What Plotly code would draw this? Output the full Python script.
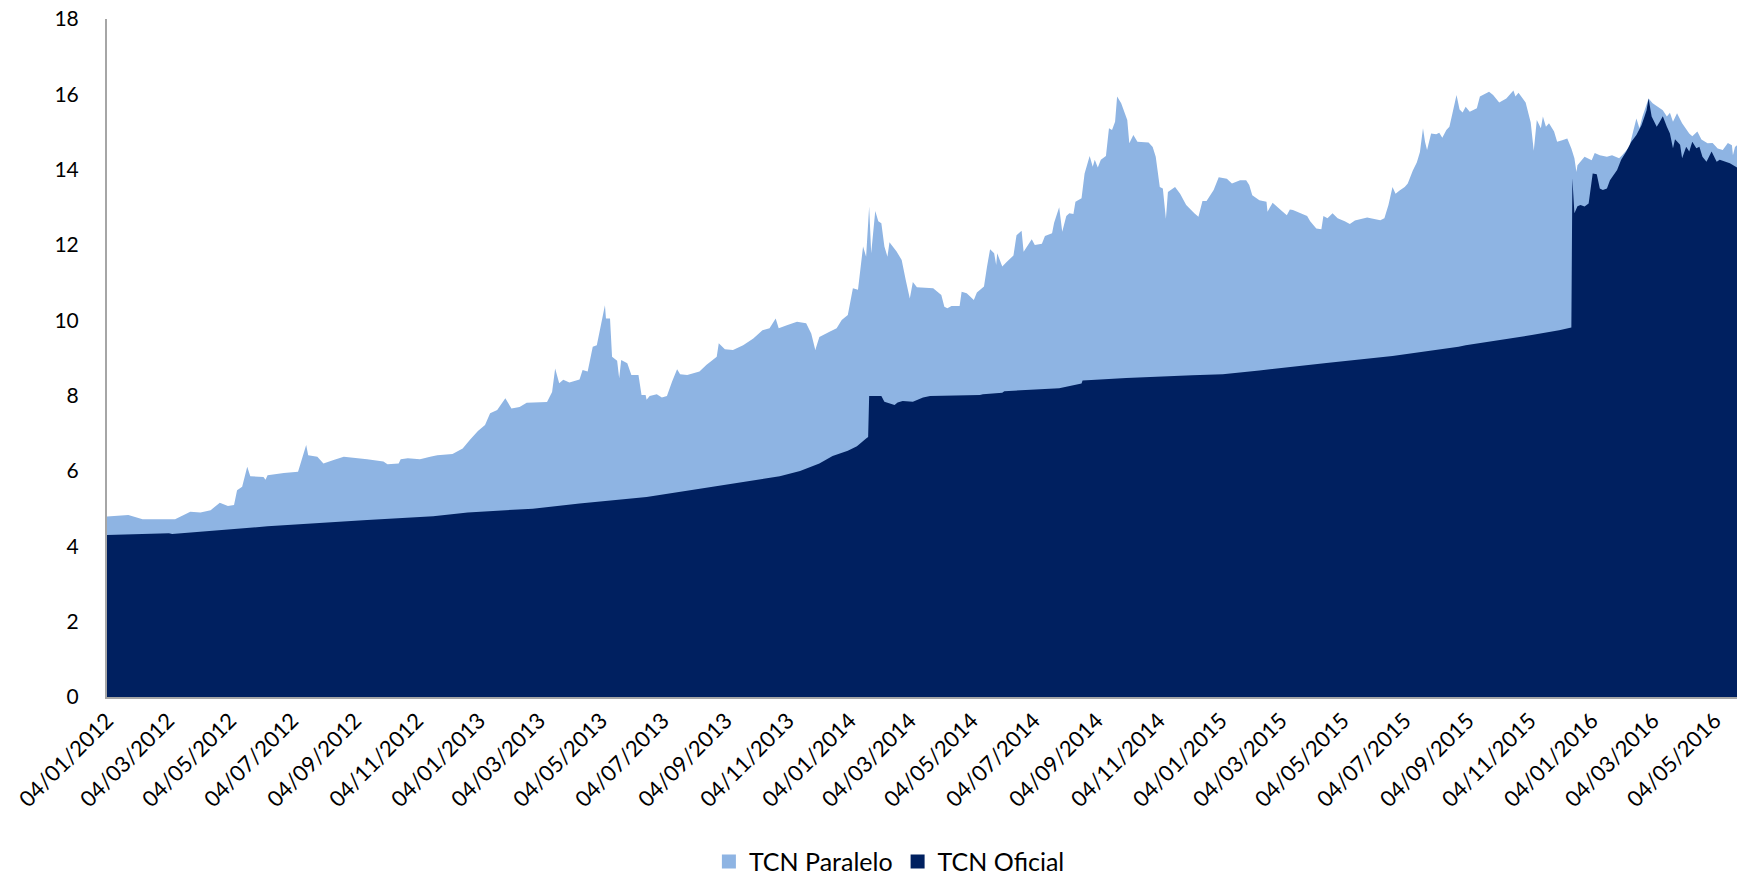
import plotly.graph_objects as go

# TCN Paralelo (parallel exchange rate)
paralelo_dates = [
    '2012-01-04', '2012-01-25', '2012-02-08', '2012-03-03', '2012-03-11', '2012-03-26',
    '2012-04-05', '2012-04-15', '2012-04-24', '2012-05-02', '2012-05-08', '2012-05-11',
    '2012-05-16', '2012-05-21', '2012-05-24', '2012-06-06', '2012-06-08', '2012-06-10',
    '2012-06-26', '2012-07-10', '2012-07-18', '2012-07-20', '2012-07-29', '2012-08-04',
    '2012-08-14', '2012-08-24', '2012-09-16', '2012-10-02', '2012-10-06', '2012-10-17',
    '2012-10-19', '2012-10-26', '2012-11-07', '2012-11-17', '2012-11-24', '2012-12-09',
    '2012-12-19', '2012-12-26', '2013-01-03', '2013-01-10', '2013-01-15', '2013-01-22',
    '2013-01-30', '2013-02-05', '2013-02-13', '2013-02-20', '2013-03-12', '2013-03-17',
    '2013-03-20', '2013-03-24', '2013-03-28', '2013-04-03', '2013-04-13', '2013-04-16',
    '2013-04-21', '2013-04-26', '2013-04-30', '2013-05-04', '2013-05-08', '2013-05-09',
    '2013-05-13', '2013-05-15', '2013-05-20', '2013-05-22', '2013-05-24', '2013-05-30',
    '2013-06-03', '2013-06-10', '2013-06-13', '2013-06-17', '2013-06-18', '2013-06-21',
    '2013-06-28', '2013-07-03', '2013-07-08', '2013-07-13', '2013-07-18', '2013-07-21',
    '2013-07-28', '2013-08-09', '2013-08-16', '2013-08-22', '2013-08-26', '2013-08-28',
    '2013-09-03', '2013-09-11', '2013-09-21', '2013-10-01', '2013-10-10', '2013-10-17',
    '2013-10-23', '2013-10-26', '2013-11-03', '2013-11-13', '2013-11-22', '2013-11-27',
    '2013-12-01', '2013-12-05', '2013-12-15', '2013-12-22', '2013-12-27', '2014-01-02',
    '2014-01-07', '2014-01-12', '2014-01-17', '2014-01-20', '2014-01-23', '2014-01-25',
    '2014-01-29', '2014-02-01', '2014-02-04', '2014-02-07', '2014-02-10', '2014-02-12',
    '2014-02-19', '2014-02-24', '2014-02-28', '2014-03-04', '2014-03-07', '2014-03-11',
    '2014-03-27', '2014-04-04', '2014-04-07', '2014-04-10', '2014-04-14', '2014-04-22',
    '2014-04-24', '2014-04-29', '2014-05-06', '2014-05-09', '2014-05-16', '2014-05-19',
    '2014-05-22', '2014-05-26', '2014-05-28', '2014-05-29', '2014-06-03', '2014-06-07',
    '2014-06-14', '2014-06-17', '2014-06-22', '2014-06-24', '2014-07-02', '2014-07-05',
    '2014-07-12', '2014-07-15', '2014-07-22', '2014-07-24', '2014-07-29', '2014-08-01',
    '2014-08-05', '2014-08-08', '2014-08-12', '2014-08-14', '2014-08-20', '2014-08-23',
    '2014-08-28', '2014-08-31', '2014-09-02', '2014-09-05', '2014-09-08', '2014-09-13',
    '2014-09-16', '2014-09-19', '2014-09-22', '2014-09-24', '2014-09-28', '2014-10-04',
    '2014-10-06', '2014-10-10', '2014-10-14', '2014-10-25', '2014-10-29', '2014-11-01',
    '2014-11-05', '2014-11-08', '2014-11-11', '2014-11-13', '2014-11-20', '2014-11-25',
    '2014-12-01', '2014-12-09', '2014-12-13', '2014-12-17', '2014-12-21', '2014-12-28',
    '2015-01-02', '2015-01-10', '2015-01-15', '2015-01-23', '2015-01-29', '2015-02-01',
    '2015-02-04', '2015-02-11', '2015-02-18', '2015-02-19', '2015-02-24', '2015-03-06',
    '2015-03-10', '2015-03-13', '2015-03-16', '2015-03-30', '2015-04-02', '2015-04-08',
    '2015-04-13', '2015-04-15', '2015-04-19', '2015-04-24', '2015-04-29', '2015-05-06',
    '2015-05-11', '2015-05-16', '2015-05-28', '2015-06-10', '2015-06-14', '2015-06-18',
    '2015-06-22', '2015-06-25', '2015-06-29', '2015-07-04', '2015-07-07', '2015-07-12',
    '2015-07-16', '2015-07-19', '2015-07-22', '2015-07-24', '2015-07-26', '2015-07-30',
    '2015-08-04', '2015-08-07', '2015-08-10', '2015-08-14', '2015-08-17', '2015-08-20',
    '2015-08-24', '2015-08-27', '2015-08-30', '2015-09-02', '2015-09-06', '2015-09-13',
    '2015-09-16', '2015-09-25', '2015-09-29', '2015-10-05', '2015-10-12', '2015-10-19',
    '2015-10-21', '2015-10-24', '2015-10-31', '2015-11-05', '2015-11-08', '2015-11-11',
    '2015-11-15', '2015-11-17', '2015-11-20', '2015-11-23', '2015-11-28', '2015-12-01',
    '2015-12-06', '2015-12-11', '2015-12-15', '2015-12-18', '2015-12-20', '2015-12-21',
    '2015-12-28', '2016-01-04', '2016-01-07', '2016-01-12', '2016-01-19', '2016-01-24',
    '2016-01-31', '2016-02-03', '2016-02-10', '2016-02-17', '2016-02-20', '2016-02-23',
    '2016-02-29', '2016-03-04', '2016-03-09', '2016-03-14', '2016-03-18', '2016-03-21',
    '2016-03-24', '2016-03-28', '2016-04-02', '2016-04-09', '2016-04-12', '2016-04-17',
    '2016-04-21', '2016-04-27', '2016-05-02', '2016-05-07', '2016-05-12', '2016-05-17',
    '2016-05-21', '2016-05-22', '2016-05-24', '2016-05-26',
]
paralelo = [
    4.79, 4.83, 4.72, 4.72, 4.72, 4.92,
    4.90, 4.96, 5.16, 5.07, 5.10, 5.49,
    5.58, 6.11, 5.86, 5.84, 5.77, 5.89,
    5.95, 5.98, 6.69, 6.42, 6.38, 6.20,
    6.29, 6.38, 6.31, 6.25, 6.18, 6.20,
    6.31, 6.34, 6.31, 6.38, 6.42, 6.45,
    6.60, 6.82, 7.06, 7.22, 7.53, 7.62,
    7.93, 7.66, 7.70, 7.81, 7.83, 8.10,
    8.72, 8.33, 8.42, 8.35, 8.43, 8.68,
    8.64, 9.30, 9.34, 9.87, 10.40, 10.05,
    10.05, 9.03, 8.93, 8.46, 8.95, 8.86,
    8.55, 8.55, 8.02, 8.02, 7.89, 7.99,
    8.04, 7.95, 7.99, 8.37, 8.70, 8.57,
    8.55, 8.64, 8.82, 8.95, 9.03, 9.39,
    9.23, 9.21, 9.34, 9.52, 9.74, 9.79,
    10.05, 9.79, 9.87, 9.96, 9.92, 9.65,
    9.21, 9.56, 9.70, 9.79, 10.01, 10.14,
    10.85, 10.81, 11.96, 11.69, 13.02, 11.78,
    12.90, 12.63, 12.58, 11.96, 11.69, 12.07,
    11.83, 11.60, 11.07, 10.58, 11.02, 10.88,
    10.85, 10.67, 10.36, 10.32, 10.38, 10.38,
    10.76, 10.72, 10.54, 10.74, 10.90, 11.43,
    11.89, 11.78, 11.47, 11.78, 11.43, 11.54,
    11.72, 12.26, 12.38, 11.82, 12.15, 12.00,
    12.03, 12.24, 12.31, 12.59, 13.00, 12.35,
    12.77, 12.84, 12.82, 13.15, 13.24, 13.90,
    14.36, 14.08, 14.26, 14.06, 14.26, 14.36,
    15.10, 15.05, 15.27, 15.94, 15.76, 15.32,
    14.70, 14.92, 14.74, 14.72, 14.60, 14.34,
    13.54, 13.50, 12.70, 13.41, 13.54, 13.36,
    13.06, 12.84, 12.75, 13.17, 13.17, 13.46,
    13.80, 13.76, 13.63, 13.72, 13.72, 13.59,
    13.32, 13.19, 13.15, 12.88, 13.12, 12.88,
    12.79, 12.94, 12.93, 12.77, 12.63, 12.44,
    12.42, 12.77, 12.71, 12.84, 12.71, 12.63,
    12.56, 12.65, 12.73, 12.66, 12.71, 13.06,
    13.54, 13.36, 13.45, 13.54, 13.63, 13.98,
    14.20, 14.47, 15.10, 14.74, 14.52, 14.96,
    14.94, 14.98, 14.85, 15.05, 15.14, 15.50,
    15.98, 15.60, 15.52, 15.67, 15.54, 15.63,
    15.94, 16.07, 15.98, 15.78, 15.89, 16.10,
    15.94, 16.04, 15.78, 15.25, 14.50, 15.32,
    15.10, 15.41, 15.14, 15.23, 15.01, 14.74,
    14.78, 14.83, 14.56, 14.30, 13.94, 14.12,
    14.34, 14.25, 14.44, 14.38, 14.34, 14.38,
    14.30, 14.38, 14.60, 15.36, 15.10, 15.41,
    15.89, 15.76, 15.67, 15.58, 15.41, 15.51,
    15.27, 15.50, 15.23, 14.96, 14.89, 15.01,
    14.80, 14.70, 14.71, 14.56, 14.52, 14.71,
    14.65, 14.38, 14.60, 14.65,
]

# TCN Oficial (official exchange rate)
oficial_dates = [
    '2012-01-04', '2012-03-05', '2012-03-08', '2012-06-10', '2012-09-16', '2012-11-20',
    '2012-12-24', '2013-02-26', '2013-04-13', '2013-06-18', '2013-08-22', '2013-10-27',
    '2013-11-16', '2013-12-05', '2013-12-18', '2014-01-02', '2014-01-11', '2014-01-20',
    '2014-01-22', '2014-01-23', '2014-02-04', '2014-02-07', '2014-02-17', '2014-02-20',
    '2014-02-25', '2014-03-07', '2014-03-17', '2014-03-24', '2014-05-12', '2014-05-15',
    '2014-06-03', '2014-06-05', '2014-07-29', '2014-08-20', '2014-08-21', '2014-10-03',
    '2014-12-07', '2015-01-06', '2015-02-11', '2015-04-18', '2015-06-22', '2015-08-26',
    '2015-09-02', '2015-11-06', '2015-12-03', '2015-12-15', '2015-12-16', '2015-12-18',
    '2015-12-21', '2015-12-24', '2015-12-28', '2016-01-01', '2016-01-05', '2016-01-09',
    '2016-01-12', '2016-01-15', '2016-01-19', '2016-01-22', '2016-01-29', '2016-02-02',
    '2016-02-07', '2016-02-12', '2016-02-17', '2016-02-22', '2016-02-25', '2016-02-27',
    '2016-02-29', '2016-03-03', '2016-03-08', '2016-03-11', '2016-03-14', '2016-03-18',
    '2016-03-21', '2016-03-24', '2016-03-26', '2016-03-31', '2016-04-02', '2016-04-06',
    '2016-04-09', '2016-04-12', '2016-04-16', '2016-04-19', '2016-04-22', '2016-04-26',
    '2016-05-01', '2016-05-06', '2016-05-09', '2016-05-19', '2016-05-26',
]
oficial = [
    4.30, 4.35, 4.33, 4.53, 4.70, 4.80,
    4.90, 5.00, 5.14, 5.31, 5.58, 5.86,
    6.00, 6.20, 6.40, 6.54, 6.66, 6.86,
    6.90, 7.99, 7.99, 7.84, 7.75, 7.82,
    7.86, 7.84, 7.95, 7.99, 8.02, 8.04,
    8.08, 8.12, 8.20, 8.32, 8.40, 8.47,
    8.54, 8.57, 8.67, 8.87, 9.05, 9.30,
    9.34, 9.61, 9.74, 9.81, 13.77, 12.84,
    13.03, 13.06, 13.02, 13.10, 13.90, 13.88,
    13.50, 13.46, 13.50, 13.72, 13.99, 14.26,
    14.48, 14.74, 14.92, 15.18, 15.41, 15.58,
    15.89, 15.41, 15.14, 15.27, 15.42, 15.14,
    14.96, 14.57, 14.81, 14.66, 14.30, 14.61,
    14.48, 14.74, 14.57, 14.61, 14.34, 14.21,
    14.48, 14.21, 14.26, 14.17, 14.06,
]

y_ticks = [0, 2, 4, 6, 8, 10, 12, 14, 16, 18]

light_blue = '#8EB4E3'
navy = '#002060'
font_name = 'Lato, Open Sans, sans-serif'

fig = go.Figure()

# areas (legend handled by the square markers below)
fig.add_trace(go.Scatter(x=paralelo_dates, y=paralelo, name='TCN Paralelo',
                         mode='none', fill='tozeroy', fillcolor=light_blue,
                         showlegend=False))
fig.add_trace(go.Scatter(x=oficial_dates, y=oficial, name='TCN Oficial',
                         mode='none', fill='tozeroy', fillcolor=navy,
                         showlegend=False))

# legend squares like the excel legend
fig.add_trace(go.Scatter(x=[None], y=[None], name='TCN Paralelo', mode='markers',
                         marker=dict(symbol='square', size=14, color=light_blue)))
fig.add_trace(go.Scatter(x=[None], y=[None], name='TCN Oficial', mode='markers',
                         marker=dict(symbol='square', size=14, color=navy)))

fig.update_layout(
    width=1741, height=878,
    margin=dict(l=107, r=4, t=19, b=181, autoexpand=False),
    plot_bgcolor='white', paper_bgcolor='white',
    font=dict(family=font_name, size=22, color='#000000'),
    legend=dict(orientation='h', x=0.480, xanchor='center', y=-0.243, yanchor='middle',
                font=dict(size=25), itemwidth=30, traceorder='normal'),
    xaxis=dict(
        type='date',
        range=['2012-01-04', '2016-05-26'],
        tick0='2012-01-04', dtick='M2',
        tickformat='%d/%m/%Y', tickangle=-45,
        showgrid=False, zeroline=False, automargin=False,
        showline=True, linecolor='#A6A6A6', linewidth=2,
        ticks='', tickfont=dict(size=22),
    ),
    yaxis=dict(
        range=[0, 18],
        tickvals=y_ticks,
        showgrid=False, zeroline=False, automargin=False,
        showline=True, linecolor='#A6A6A6', linewidth=2,
        ticks='', ticklabelstandoff=22, tickfont=dict(size=21),
    ),
)

# drop the default 8px body margin so the figure sits at the page corner
fig.write_html('out.html', config={'displayModeBar': False},
               post_script="document.body.style.margin = '0';")
